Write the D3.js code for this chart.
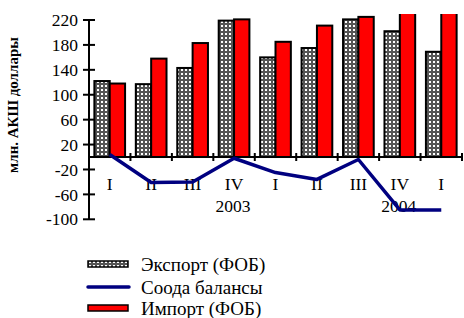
<!DOCTYPE html>
<html>
<head>
<meta charset="utf-8">
<script src="https://cdn.jsdelivr.net/npm/d3@7"></script>
<style>
    body { margin: 0; background: #fff; }
</style>
</head>
<body>
<svg id="chart" width="464" height="318" font-family="Liberation Serif, DejaVu Serif, serif"></svg>
<script>
const quarters = ["I", "II", "III", "IV", "I", "II", "III", "IV", "I"];
const exportFob = [122, 117, 143, 219, 160, 175, 221, 202, 169];
const importFob = [118, 158, 183, 221, 185, 211, 225, 287, 254];
const balance = [4, -41, -40, -2, -25, -36, -4, -85, -85];
const yTicks = [220, 180, 140, 100, 60, 20, -20, -60, -100];
const years = [{ label: "2003", at: 3 }, { label: "2004", at: 7 }];
const seriesNames = ["Экспорт (ФОБ)", "Соода балансы", "Импорт (ФОБ)"];

const svg = d3.select("#chart");
const left = 89, right = 462;
const fs = 17.5;

const x = d3.scaleBand().domain(d3.range(quarters.length)).range([left, right]);
const xSub = d3.scaleBand().domain(["exp", "imp"]).range([0, x.bandwidth()]).paddingOuter(0.35);
const y = d3.scaleLinear().domain([-100, 220]).range([219.3, 20]);

const defs = svg.append("defs");
const pat = defs.append("pattern").attr("id", "waffle")
    .attr("patternUnits", "userSpaceOnUse").attr("width", 4).attr("height", 4);
pat.append("rect").attr("width", 4).attr("height", 4).attr("fill", "#555");
pat.append("rect").attr("x", 1).attr("y", 1).attr("width", 2).attr("height", 2).attr("fill", "#fff");

defs.append("clipPath").attr("id", "plotClip")
    .append("rect").attr("x", left).attr("y", 14).attr("width", right - left).attr("height", 220);

// bars
const g = svg.append("g").attr("clip-path", "url(#plotClip)");
g.selectAll(".exp").data(exportFob).enter().append("rect")
    .attr("x", (d, i) => x(i) + xSub("exp"))
    .attr("y", d => y(d))
    .attr("width", xSub.bandwidth())
    .attr("height", d => y(0) - y(d))
    .attr("fill", "url(#waffle)")
    .attr("stroke", "#000").attr("stroke-width", 2);
g.selectAll(".imp").data(importFob).enter().append("rect")
    .attr("x", (d, i) => x(i) + xSub("imp"))
    .attr("y", d => y(d))
    .attr("width", xSub.bandwidth())
    .attr("height", d => y(0) - y(d))
    .attr("fill", "#ff0000")
    .attr("stroke", "#000").attr("stroke-width", 2);

// y axis
const yAxis = svg.append("g");
yAxis.append("line").attr("x1", left).attr("x2", left)
    .attr("y1", y(220)).attr("y2", y(-100)).attr("stroke", "#000").attr("stroke-width", 2);
yAxis.selectAll(".yt").data(yTicks).enter().append("line")
    .attr("x1", left - 6).attr("x2", left + 6)
    .attr("y1", d => y(d)).attr("y2", d => y(d))
    .attr("stroke", "#000").attr("stroke-width", 2);
yAxis.selectAll(".yl").data(yTicks).enter().append("text")
    .attr("x", 78).attr("y", d => y(d)).attr("dy", "0.35em")
    .attr("text-anchor", "end").attr("font-size", fs)
    .text(d => d);

// x axis at zero
const xAxis = svg.append("g");
xAxis.append("line").attr("x1", left).attr("x2", right)
    .attr("y1", y(0)).attr("y2", y(0)).attr("stroke", "#000").attr("stroke-width", 2);
xAxis.selectAll(".xt").data(d3.range(quarters.length + 1)).enter().append("line")
    .attr("x1", i => left + i * x.step()).attr("x2", i => left + i * x.step())
    .attr("y1", y(0) - 4).attr("y2", y(0) + 4)
    .attr("stroke", "#000").attr("stroke-width", 2);
xAxis.selectAll(".xl").data(quarters).enter().append("text")
    .attr("x", (d, i) => x(i) + x.bandwidth() / 2).attr("y", 189.5)
    .attr("text-anchor", "middle").attr("font-size", fs)
    .text(d => d);
xAxis.selectAll(".yr").data(years).enter().append("text")
    .attr("x", d => x(d.at) + x.bandwidth() / 2 - 1).attr("y", 211.5)
    .attr("text-anchor", "middle").attr("font-size", fs)
    .text(d => d.label);

// balance line
const line = d3.line()
    .x((d, i) => x(i) + x.bandwidth() / 2)
    .y(d => y(d));
svg.append("path").datum(balance)
    .attr("d", line)
    .attr("fill", "none").attr("stroke", "#000080").attr("stroke-width", 3.5)
    .attr("stroke-linejoin", "round");

// y title
svg.append("text")
    .attr("transform", "translate(18,105) rotate(-90)")
    .attr("text-anchor", "middle").attr("font-size", 15).attr("font-weight", "bold")
    .text("млн. АКШ доллары");

// legend
const legend = svg.append("g");
const ly = [264, 287, 308];
legend.append("rect").attr("x", 88).attr("y", ly[0] - 3).attr("width", 40).attr("height", 6)
    .attr("fill", "url(#waffle)").attr("stroke", "#000").attr("stroke-width", 1.5);
legend.append("line").attr("x1", 88).attr("x2", 129).attr("y1", ly[1]).attr("y2", ly[1])
    .attr("stroke", "#000080").attr("stroke-width", 3.5).attr("stroke-linecap", "round");
legend.append("rect").attr("x", 88).attr("y", ly[2] - 3).attr("width", 40).attr("height", 6)
    .attr("fill", "#ff0000").attr("stroke", "#000").attr("stroke-width", 1.5);
legend.selectAll(".lt").data(seriesNames).enter().append("text")
    .attr("x", 141).attr("y", (d, i) => ly[i]).attr("dy", "0.35em")
    .attr("font-size", 19)
    .text(d => d);
</script>
</body>
</html>
